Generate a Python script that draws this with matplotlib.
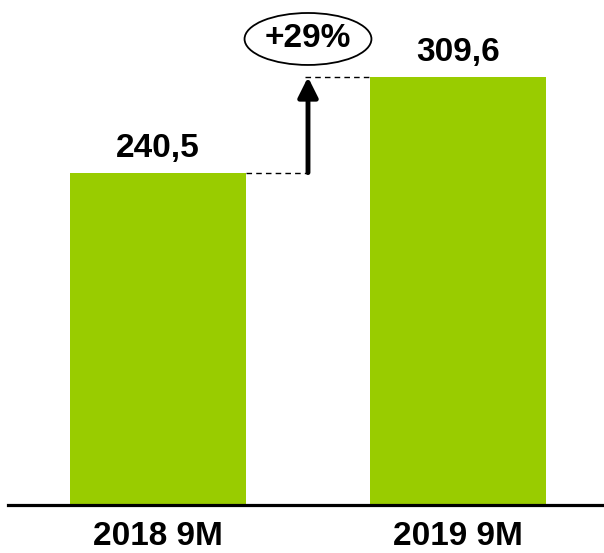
import matplotlib.pyplot as plt
from matplotlib.patches import Ellipse

plt.rcParams['font.family'] = ['Liberation Sans', 'DejaVu Sans']

periods = ['2018 9M', '2019 9M']
values = [240.5, 309.6]
value_labels = ['240,5', '309,6']
growth_label = '+29%'

green = '#99cc00'
bar_w = 0.587
arrow_x = 0.5

fig = plt.figure(figsize=(6.04, 5.53), dpi=100)
ax = fig.add_axes([8 / 604, 48 / 553, 596 / 604, 505 / 553])

x = list(range(len(values)))
ax.bar(x, values, width=bar_w, color=green)
ax.set_xlim(-0.5, 1.4867)
ax.set_ylim(0, 365.4)

for xi, v, lab in zip(x, values, value_labels):
    ax.annotate(lab, (xi, v), xytext=(0, 11.5), textcoords='offset points',
                ha='center', va='baseline', fontsize=24, fontweight='bold')

# dashed connectors + growth arrow
ax.hlines(values[0], x[0] + bar_w / 2, arrow_x, colors='black',
          linestyles=(0, (4, 3)), lw=1)
ax.hlines(values[1], arrow_x - 0.01, x[1] - bar_w / 2, colors='black',
          linestyles=(0, (4, 3)), lw=1)
ax.annotate('', xy=(arrow_x, values[1]), xytext=(arrow_x, values[0]),
            arrowprops=dict(arrowstyle='-|>', lw=3.5, color='black',
                            mutation_scale=30, shrinkA=0, shrinkB=0))

ax.add_patch(Ellipse((arrow_x, 337.2), 0.423, 37.6, facecolor='white',
                     edgecolor='black', lw=1.3, clip_on=False))
ax.text(arrow_x, 337.2, growth_label, ha='center', va='center',
        fontsize=24, fontweight='bold')

ax.set_xticks(x)
ax.set_xticklabels(periods, fontsize=24, fontweight='bold')
ax.set_yticks([])
ax.tick_params(axis='x', length=0, pad=11.5)
for s in ['top', 'left', 'right']:
    ax.spines[s].set_visible(False)
ax.spines['bottom'].set_linewidth(2.3)

fig.savefig('out.png', dpi=100)
